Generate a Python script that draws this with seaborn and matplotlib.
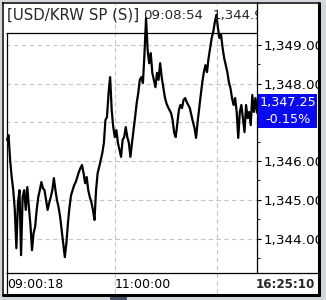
import matplotlib
matplotlib.use("Agg")
import matplotlib.pyplot as plt
import seaborn as sns
import pandas as pd
from matplotlib.patches import Rectangle
from matplotlib.ticker import FuncFormatter

# ---------------- data ----------------
prices = [
    1346.55, 1346.67, 1346.03, 1345.59, 1345.25, 1344.74, 1343.75, 1344.92, 1345.25, 1343.57,
    1345.07, 1345.25, 1344.74, 1345.33, 1344.81, 1344.35, 1343.70, 1344.14, 1344.30, 1344.74,
    1345.07, 1345.25, 1345.46, 1345.30, 1345.25, 1344.99, 1344.74, 1344.92, 1345.07, 1345.25,
    1345.56, 1345.25, 1344.99, 1344.81, 1344.56, 1344.22, 1343.88, 1343.52, 1343.88, 1344.40,
    1344.81, 1345.12, 1345.25, 1345.38, 1345.46, 1345.59, 1345.72, 1345.82, 1345.90, 1345.69,
    1345.43, 1345.59, 1345.25, 1345.07, 1344.94, 1344.74, 1344.48, 1345.25, 1345.69, 1345.85,
    1346.03, 1346.21, 1346.47, 1347.06, 1347.14, 1347.76, 1348.17, 1347.32, 1346.88, 1346.62,
    1346.80, 1346.47, 1346.29, 1346.11, 1346.55, 1346.62, 1346.88, 1346.62, 1346.47, 1346.11,
    1346.47, 1346.80, 1347.14, 1347.50, 1347.76, 1348.10, 1348.17, 1348.02, 1348.79, 1349.70,
    1348.87, 1348.53, 1348.79, 1348.28, 1348.10, 1347.91, 1348.28, 1348.10, 1348.53, 1348.17,
    1347.91, 1347.66, 1347.50, 1347.40, 1347.32, 1347.24, 1347.06, 1346.73, 1346.62, 1346.98,
    1347.32, 1347.45, 1347.37, 1347.58, 1347.63, 1347.53, 1347.45, 1347.37, 1347.19, 1347.01,
    1346.86, 1346.60, 1347.01, 1347.37, 1347.71, 1348.04, 1348.30, 1348.48, 1348.30, 1348.66,
    1348.92, 1349.18, 1349.34, 1349.59, 1349.78, 1349.44, 1349.18, 1349.26, 1348.92, 1348.66,
    1348.48, 1348.30, 1348.04, 1347.89, 1347.63, 1347.45, 1347.63, 1347.27, 1346.60, 1347.27,
    1347.45, 1347.11, 1346.75, 1347.45, 1347.11, 1347.27, 1346.93, 1347.71, 1347.27, 1347.63,
    1347.25,
]
tick_index = list(range(len(prices)))
y_ticks = [1344, 1345, 1346, 1347, 1348, 1349]
y_hidden = [1347]                    # label covered by the last-price box
y_minor = [1343.5, 1344.5, 1345.5, 1346.5, 1347.5, 1348.5]
time_grid = [69.1, 134.4]            # 11:00:00 and 13:00:00 in tick index
time_labels = ["09:00:18", "11:00:00"]
time_label_pos = [0, 69.1]
title_pair = "[USD/KRW SP (S)]"
title_time = "09:08:54"
title_price = "1,344.90"
last_price = "1,347.25"
last_change = "-0.15%"
clock = "16:25:10"

df = pd.DataFrame({"tick": tick_index, "price": prices})

# ---------------- style ----------------
sns.set_style("white")
plt.rcParams["font.family"] = ["DejaVu Sans"]

W, H = 326, 300
fig = plt.figure(figsize=(W / 100, H / 100), dpi=100)
fig.patch.set_facecolor("#d3d7dc")

# background panel (pixel coordinates)
bg = fig.add_axes([0, 0, 1, 1], zorder=-10)
bg.set_xlim(0, W); bg.set_ylim(H, 0); bg.axis("off")
bg.add_patch(Rectangle((2, 2), 318, 293, facecolor="white", edgecolor="none"))

# main plot axes: x 6..257, y 33..273
ax = fig.add_axes([6 / W, 1 - 273 / H, 251 / W, 240 / H], zorder=1)
ax.set_facecolor("none")
for s in ax.spines.values():
    s.set_visible(False)

grid_kw = dict(color="#c4c4c4", lw=0.8, dashes=(4, 3), zorder=0)
for v in y_ticks:
    ax.axhline(v, **grid_kw)
for t in time_grid:
    ax.axvline(t, ymin=-0.083, ymax=1.125, clip_on=False, **grid_kw)

sns.lineplot(data=df, x="tick", y="price", ax=ax, color="black", lw=1.6,
             estimator=None, sort=False, clip_on=False, zorder=3)

ax.set_xlim(-0.64, 160)
ax.set_ylim(1343.11, 1349.31)
ax.set_xlabel(""); ax.set_ylabel("")

ax.yaxis.set_ticks_position("right")
ax.set_yticks(y_ticks)
ax.set_yticks(y_minor, minor=True)
ax.yaxis.set_major_formatter(
    FuncFormatter(lambda v, p: "" if round(v) in y_hidden else f"{v:,.2f}"))
ax.tick_params(axis="y", which="major", direction="out", length=3, width=0.8,
               pad=1.8, labelsize=9.7, right=True, left=False,
               labelright=True, labelleft=False, colors="black")
ax.tick_params(axis="y", which="minor", direction="out", length=1.8, width=0.8,
               right=True, left=False)

ax.set_xticks(time_label_pos)
ax.set_xticklabels(time_labels, ha="left")
ax.tick_params(axis="x", length=0, pad=3.5, labelsize=9, colors="black")

# ---------------- overlay (frame, title, last price box) ----------------
ov = fig.add_axes([0, 0, 1, 1], zorder=5)
ov.set_xlim(0, W); ov.set_ylim(H, 0); ov.axis("off")
ov.patch.set_visible(False)

# title row
ov.text(7, 19.3, title_pair, fontsize=10.8, va="baseline", ha="left", zorder=3)
ov.text(143, 19.3, title_time, fontsize=9.6, va="baseline", ha="left", zorder=3)
ov.text(213, 19.3, title_price, fontsize=9.6, va="baseline", ha="left", zorder=3)
# mask title overflow past the separator
ov.add_patch(Rectangle((257.5, 3), 61, 29.5, facecolor="white",
                       edgecolor="none", zorder=3.5))

# last price box
ov.add_patch(Rectangle((258, 94), 59, 33.5, facecolor="#0a0af0",
                       edgecolor="none", zorder=3.6))
ov.text(288, 102.5, last_price, color="white", fontsize=9.2,
        ha="center", va="center", zorder=3.7)
ov.text(288, 119.5, last_change, color="white", fontsize=9.2,
        ha="center", va="center", zorder=3.7)

# clock
ov.text(315, 284, clock, fontsize=8.6, fontweight="bold",
        ha="right", va="center", zorder=3.7)

# mask outside of the frame
ov.add_patch(Rectangle((320.5, 0), 6, H, facecolor="#d3d7dc",
                       edgecolor="none", zorder=3.8))
ov.add_patch(Rectangle((0, 296), W, 4, facecolor="#d3d7dc",
                       edgecolor="none", zorder=3.8))
ov.add_patch(Rectangle((110, 296.5), 17, 3.5, facecolor="#4a5266",
                       edgecolor="none", zorder=3.9))

# frame lines
line_kw = dict(color="black", solid_capstyle="butt", zorder=4)
ov.plot([2.5, 2.5], [2, 296], lw=1.1, **line_kw)          # outer left
ov.plot([2, 320], [2.5, 2.5], lw=1.1, **line_kw)          # outer top
ov.plot([319, 319], [2, 296], lw=2.2, **line_kw)          # outer right
ov.plot([2, 320], [294.5, 294.5], lw=2.2, **line_kw)      # outer bottom
ov.plot([6.5, 6.5], [33, 294], lw=0.9, **line_kw)         # inner left
ov.plot([6, 257], [33, 33], lw=0.9, **line_kw)            # title separator
ov.plot([257, 257], [2, 273], lw=0.9, **line_kw)          # axis separator
ov.plot([6, 319], [273, 273], lw=0.9, **line_kw)          # bottom of plot

fig.savefig("out.png", dpi=100, facecolor=fig.get_facecolor())
